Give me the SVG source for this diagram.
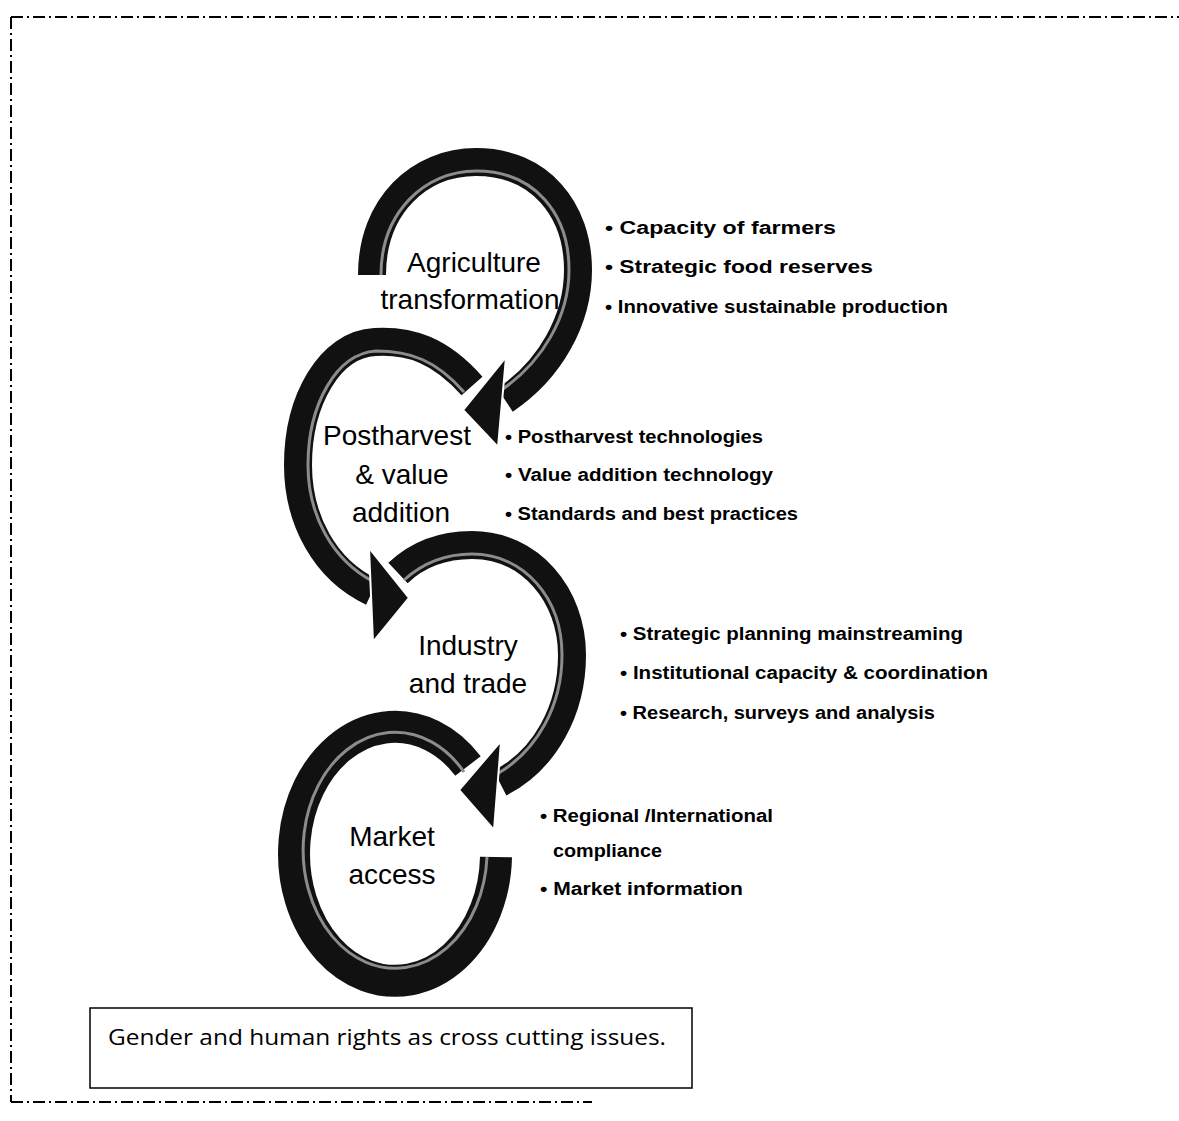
<svg xmlns="http://www.w3.org/2000/svg" width="1179" height="1121" viewBox="0 0 1179 1121">
<style>
.frame{fill:none;stroke:#000;stroke-width:2;stroke-dasharray:12 4 2 4}
.body{fill:none;stroke:#111;stroke-width:28;stroke-linecap:butt}
.ring{fill:none;stroke:#111;stroke-width:32;stroke-linecap:butt}
.hl{fill:none;stroke:#8c8c8c;stroke-width:3}
.head{fill:#111;stroke:#fff;stroke-width:2;stroke-linejoin:miter}
.lbl{font-family:"Liberation Sans",Arial,sans-serif;font-size:28px;fill:#000;text-anchor:middle}
.bul{font-family:"Liberation Sans",Arial,sans-serif;font-size:18px;font-weight:bold;fill:#000}
.note{font-family:"Open Sans","Liberation Sans",sans-serif;font-size:22px;fill:#000}
</style>
<rect width="1179" height="1121" fill="#fff"/>
<g id="frame">
<path class="frame" d="M11 17 H1179"/>
<path class="frame" d="M11 17 V1102"/>
<path class="frame" d="M11 1102 H592"/>
</g>
<g id="connectors">
<g id="arrow4">
<path class="ring" d="M468 766 A101 127 0 1 0 496 857"/>
<path class="hl" d="M464 772 A92 118 0 1 0 487 857"/>
</g>
<g id="arrow3">
<path class="body" d="M398 573 C420 552 445 545 472 545 C530 545 572 595 572 655 C572 710 545 760 500 783"/>
<path class="hl" d="M404 580 C424 562 447 554 472 554 C524 554 562 598 562 655 C562 705 538 750 497 774"/>
<polygon class="head" points="501,741 494,830 459,790"/>
</g>
<g id="arrow2">
<path class="body" d="M472 386 C440 350 410 340 375 342 C330 344 298 400 298 465 C298 520 325 570 372 592"/>
<path class="hl" d="M464 392 C436 360 410 351 376 351 C337 353 308 404 308 465 C308 515 332 560 374 582"/>
<polygon class="head" points="369,548 409,598 373,642"/>
</g>
<g id="arrow1">
<path class="body" d="M372 275 C372 205 420 162 476 162 C540 162 578 210 578 270 C578 320 550 370 505 400"/>
<path class="hl" d="M381 275 C381 212 425 171 476 171 C535 171 569 214 569 270 C569 316 543 362 500 391"/>
<polygon class="head" points="506,357 498,447 463,410"/>
</g>
</g>
<g id="node-agriculture">
<text class="lbl" x="474" y="272">Agriculture</text>
<text class="lbl" x="470" y="309">transformation</text>
</g>
<g id="node-postharvest">
<text class="lbl" x="397" y="445">Postharvest</text>
<text class="lbl" x="402" y="484">&amp; value</text>
<text class="lbl" x="401" y="522">addition</text>
</g>
<g id="node-industry">
<text class="lbl" x="468" y="655">Industry</text>
<text class="lbl" x="468" y="693">and trade</text>
</g>
<g id="node-market">
<text class="lbl" x="392" y="846">Market</text>
<text class="lbl" x="392" y="884">access</text>
</g>
<g id="list-agriculture">
<text class="bul" x="605" y="234" textLength="231" lengthAdjust="spacingAndGlyphs">• Capacity of farmers</text>
<text class="bul" x="605" y="273" textLength="268" lengthAdjust="spacingAndGlyphs">• Strategic food reserves</text>
<text class="bul" x="605" y="313" textLength="343" lengthAdjust="spacingAndGlyphs">• Innovative sustainable production</text>
</g>
<g id="list-postharvest">
<text class="bul" x="505" y="443" textLength="258" lengthAdjust="spacingAndGlyphs">• Postharvest technologies</text>
<text class="bul" x="505" y="481" textLength="268" lengthAdjust="spacingAndGlyphs">• Value addition  technology</text>
<text class="bul" x="505" y="520" textLength="293" lengthAdjust="spacingAndGlyphs">• Standards and best practices</text>
</g>
<g id="list-industry">
<text class="bul" x="620" y="640" textLength="343" lengthAdjust="spacingAndGlyphs">• Strategic planning mainstreaming</text>
<text class="bul" x="620" y="679" textLength="368" lengthAdjust="spacingAndGlyphs">• Institutional  capacity &amp; coordination</text>
<text class="bul" x="620" y="719" textLength="315" lengthAdjust="spacingAndGlyphs">• Research, surveys and analysis</text>
</g>
<g id="list-market">
<text class="bul" x="540" y="822" textLength="233" lengthAdjust="spacingAndGlyphs">• Regional /International</text>
<text class="bul" x="553" y="857" textLength="109" lengthAdjust="spacingAndGlyphs">compliance</text>
<text class="bul" x="540" y="895" textLength="203" lengthAdjust="spacingAndGlyphs">• Market information</text>
</g>
<g id="note">
<rect x="90" y="1008" width="602" height="80" fill="#fff" stroke="#000" stroke-width="1.5"/>
<text class="note" x="108" y="1045" textLength="558" lengthAdjust="spacingAndGlyphs">Gender and human rights as cross cutting issues.</text>
</g>
</svg>
